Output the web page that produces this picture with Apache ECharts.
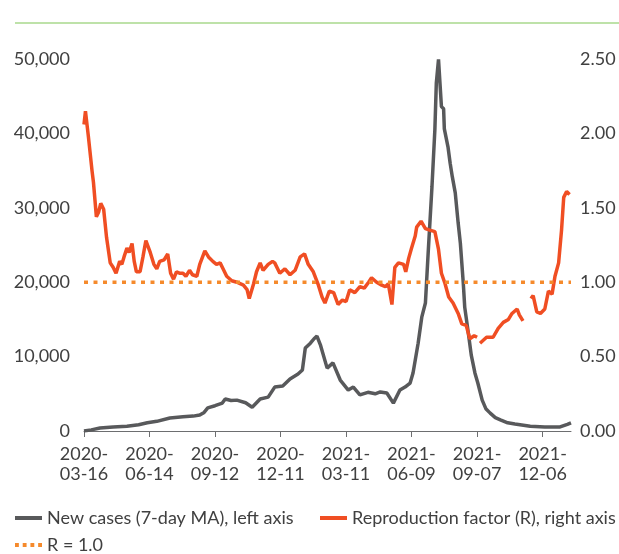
<!DOCTYPE html>
<html>
<head>
<meta charset="utf-8">
<script src="https://cdn.jsdelivr.net/npm/echarts@6/dist/echarts.min.js"></script>
<style>
  html, body { margin: 0; padding: 0; background: #fff; }
  #chart { width: 619px; height: 554px; }
</style>
</head>
<body>
<div id="chart"></div>
<script>
// x positions are days since 2020-03-16
var tickDays = [0, 90, 180, 270, 360, 450, 540, 630];
var tickLabels = ['2020-03-16', '2020-06-14', '2020-09-12', '2020-12-11',
                  '2021-03-11', '2021-06-09', '2021-09-07', '2021-12-06'];
var lastDay = 669;

var caseDays = [0, 10, 22, 40, 59, 75, 87, 100, 118, 136, 150, 159, 165, 170, 180, 190, 194, 202, 210, 222,
  231, 236, 242, 253, 262, 273, 283, 294, 300, 304, 311, 316, 320, 325, 334, 342, 352, 363, 370, 379,
  390, 400, 407, 416, 425, 434, 441, 448, 452, 459, 464, 469, 473, 478, 482, 484, 487, 489, 491, 494,
  495, 500, 503, 506, 510, 514, 517, 521, 523, 528, 532, 537, 541, 547, 552, 558, 565, 572, 582, 592,
  613, 633, 654, 664, 669];
var caseValues = [0, 150, 400, 550, 650, 850, 1100, 1300, 1750, 1900, 2000, 2150, 2500, 3100, 3400, 3750, 4300, 4100, 4150, 3800,
  3200, 3700, 4300, 4550, 5900, 6050, 7000, 7650, 8200, 11150, 11800, 12400, 12750, 11500, 8450, 9150, 6850, 5500, 5900, 4850,
  5200, 5000, 5250, 5100, 3750, 5500, 5900, 6450, 7800, 11800, 15300, 17200, 24300, 32800, 40500, 46800, 49950, 46750, 43600, 43300,
  40600, 38200, 36000, 34150, 32000, 27950, 25250, 19900, 16650, 13150, 10200, 7800, 6450, 4150, 3000, 2400, 1800, 1500, 1100, 950,
  650, 550, 550, 900, 1100];

var rDays = [0, 2, 6, 11, 13, 17, 20, 23, 27, 31, 36, 40, 44, 49, 52, 55, 59, 62, 66, 69,
  72, 77, 81, 85, 91, 96, 100, 104, 110, 115, 119, 123, 127, 132, 136, 140, 145, 149, 155, 159,
  166, 171, 177, 182, 187, 191, 196, 203, 210, 219, 224, 227, 233, 237, 242, 246, 253, 259, 262, 269,
  276, 283, 290, 297, 303, 308, 315, 322, 327, 331, 337, 343, 349, 355, 360, 365, 372, 379, 385, 391,
  395, 402, 409, 414, 418, 423, 427, 432, 439, 442, 446, 450, 455, 457, 463, 469, 475, 482, 487, 491,
  496, 501, 507, 514, 519, 525, 530, 536, 540, 542, 544, 553, 562, 569, 576, 583, 588, 595, 598, 603,
  608, 614, 617, 622, 627, 633, 638, 643, 647, 652, 656, 659, 663, 667];
var rValues = [2.06, 2.15, 1.98, 1.75, 1.67, 1.44, 1.47, 1.53, 1.49, 1.30, 1.13, 1.10, 1.06, 1.14, 1.12, 1.17, 1.23, 1.20, 1.26, 1.14,
  1.07, 1.07, 1.17, 1.28, 1.20, 1.12, 1.09, 1.14, 1.15, 1.19, 1.06, 1.02, 1.07, 1.06, 1.06, 1.04, 1.08, 1.05, 1.04, 1.12,
  1.21, 1.17, 1.14, 1.12, 1.13, 1.09, 1.04, 1.01, 1.00, 0.98, 0.95, 0.89, 0.99, 1.07, 1.13, 1.08, 1.12, 1.14, 1.13, 1.06,
  1.09, 1.05, 1.08, 1.17, 1.19, 1.12, 1.07, 0.98, 0.90, 0.86, 0.94, 0.93, 0.85, 0.88, 0.87, 0.95, 0.93, 0.97, 0.96, 1.00,
  1.03, 1.00, 0.98, 0.97, 0.99, 0.85, 1.10, 1.13, 1.12, 1.07, 1.16, 1.23, 1.31, 1.37, 1.41, 1.36, 1.35, 1.34, 1.22, 1.06,
  0.99, 0.90, 0.86, 0.79, 0.72, 0.71, 0.62, 0.64, 0.63, null, 0.59, 0.63, 0.63, 0.69, 0.73, 0.75, 0.79, 0.82, 0.78, 0.74,
  null, 0.89, 0.91, 0.80, 0.79, 0.82, 0.94, 0.92, 1.04, 1.13, 1.35, 1.57, 1.61, 1.59];

var rThreshold = 1.0;

var FONT = 'Lato';
var TEXT = '#404040';
var GREY = '#58595b';
var RED = '#f04e23';
var ORANGE = '#f58a2c';

function pairs(xs, ys) {
  return xs.map(function (x, i) { return [x, ys[i] == null ? '-' : ys[i]]; });
}

var legendText = { fontFamily: FONT, fontSize: 18, color: TEXT, lineHeight: 18 };
var dotsIcon = 'path://M0,0h4v4h-4z M8,0h4v4h-4z M16,0h4v4h-4z M24,0h4v4h-4z';

function legendAt(left, top, name, icon) {
  return {
    left: left, top: top, padding: 0,
    itemWidth: 27, itemHeight: 4,
    textStyle: legendText,
    data: [{ name: name, icon: icon }]
  };
}

var chart = echarts.init(document.getElementById('chart'));

chart.setOption({
  animation: false,
  textStyle: { fontFamily: FONT },
  grid: { left: 84, right: 48, top: 59, bottom: 123 },
  graphic: [{
    type: 'line',
    shape: { x1: 15, y1: 23, x2: 619, y2: 23 },
    style: { stroke: '#a8d98c', lineWidth: 1.5 }
  }],
  legend: [
    legendAt(15, 509, 'New cases (7-day MA), left axis', 'rect'),
    legendAt(320, 509, 'Reproduction factor (R), right axis', 'rect'),
    legendAt(15, 536, 'R = 1.0', dotsIcon)
  ],
  xAxis: {
    type: 'value',
    min: 0, max: lastDay,
    splitLine: { show: false },
    axisLine: { show: true, lineStyle: { color: '#6d6e70', width: 1 } },
    axisTick: { show: true, customValues: tickDays, length: 6, lineStyle: { color: '#6d6e70', width: 1 } },
    axisLabel: {
      customValues: tickDays,
      margin: 13,
      fontFamily: FONT, fontSize: 18, color: TEXT, lineHeight: 20,
      formatter: function (v) {
        var s = tickLabels[tickDays.indexOf(v)] || '';
        return s.slice(0, 5) + '\n' + s.slice(5);
      }
    }
  },
  yAxis: [{
    type: 'value',
    min: 0, max: 50000, interval: 10000,
    splitLine: { show: false },
    axisLine: { show: false },
    axisTick: { show: false },
    axisLabel: {
      margin: 14, fontFamily: FONT, fontSize: 18, color: TEXT,
      padding: [0, 0, 6, 0],
      formatter: function (v) { return v.toLocaleString('en-US'); }
    }
  }, {
    type: 'value',
    min: 0, max: 2.5, interval: 0.5,
    splitLine: { show: false },
    axisLine: { show: false },
    axisTick: { show: false },
    axisLabel: {
      margin: 9, fontFamily: FONT, fontSize: 18, color: TEXT,
      padding: [0, 0, 6, 0],
      formatter: function (v) { return v.toFixed(2); }
    }
  }],
  series: [{
    name: 'New cases (7-day MA), left axis',
    type: 'line',
    yAxisIndex: 0,
    symbol: 'none',
    lineStyle: { color: GREY, width: 3.5 },
    itemStyle: { color: GREY },
    data: pairs(caseDays, caseValues)
  }, {
    name: 'Reproduction factor (R), right axis',
    type: 'line',
    yAxisIndex: 1,
    symbol: 'none',
    connectNulls: false,
    lineStyle: { color: RED, width: 3.5 },
    itemStyle: { color: RED },
    data: pairs(rDays, rValues)
  }, {
    name: 'R = 1.0',
    type: 'line',
    yAxisIndex: 1,
    symbol: 'none',
    lineStyle: { color: ORANGE, width: 3.5, type: [4, 5.5] },
    itemStyle: { color: ORANGE },
    data: pairs([0, lastDay], [rThreshold, rThreshold])
  }]
});
</script>
</body>
</html>
